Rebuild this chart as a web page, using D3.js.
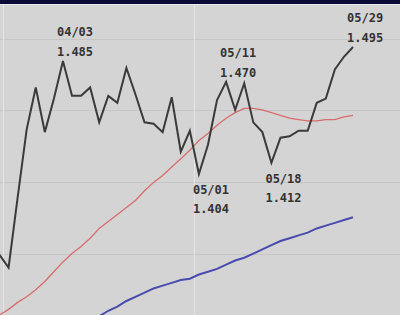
<!DOCTYPE html>
<html>
<head>
<meta charset="utf-8">
<script src="https://cdn.jsdelivr.net/npm/d3@7"></script>
<style>
  html, body { margin: 0; padding: 0; background: #d4d4d4; }
  svg { display: block; }
</style>
</head>
<body>
<div id="chart"></div>
<script>
// price series (one point per trading day)
let price = [1.346, 1.337, 1.387, 1.436, 1.466, 1.434, 1.458, 1.485, 1.460, 1.460,
             1.466, 1.441, 1.460, 1.455, 1.480, 1.461, 1.441, 1.440, 1.434, 1.459,
             1.420, 1.435, 1.404, 1.425, 1.457, 1.470, 1.450, 1.469, 1.441, 1.434,
             1.412, 1.430, 1.431, 1.435, 1.435, 1.455, 1.458, 1.479, 1.488, 1.495];

// short moving average (red)
let maShort = [1.303, 1.307, 1.312, 1.316, 1.321, 1.327, 1.334, 1.341, 1.347, 1.352,
               1.358, 1.365, 1.370, 1.375, 1.380, 1.385, 1.392, 1.398, 1.403, 1.409,
               1.415, 1.421, 1.428, 1.433, 1.439, 1.444, 1.448, 1.451, 1.451, 1.450,
               1.448, 1.446, 1.444, 1.443, 1.442, 1.442, 1.443, 1.443, 1.445, 1.446];

// long moving average (blue), starts later
let maLong = [null, null, null, null, null, null, null, null, null, null,
              1.299, 1.302, 1.306, 1.309, 1.313, 1.316, 1.319, 1.322, 1.324, 1.326,
              1.328, 1.329, 1.332, 1.334, 1.336, 1.339, 1.342, 1.344, 1.347, 1.350,
              1.353, 1.356, 1.358, 1.360, 1.362, 1.365, 1.367, 1.369, 1.371, 1.373];

// highs / lows that get a date + value label
let marks = [
  { i: 7,  date: "04/03", side: "up" },
  { i: 22, date: "05/01", side: "down" },
  { i: 25, date: "05/11", side: "up" },
  { i: 30, date: "05/18", side: "down" },
  { i: 39, date: "05/29", side: "up" }
];

// grid positions
let gridValues = [1.501, 1.450, 1.398, 1.347];
let gridDays = [0.4, 21.5];

let width = 400, height = 315;

let svg = d3.select('#chart').append('svg')
    .attr('width', width)
    .attr('height', height);

svg.append('rect')
    .attr('width', width).attr('height', height)
    .attr('fill', '#d4d4d4');

// x scale: day index
let x = d3.scaleLinear()
    .domain([0, 39])
    .range([-0.5, 353]);

// y scale
let y = d3.scaleLinear()
    .domain([1.495, 1.404])
    .range([47, 174]);

// grid
svg.selectAll('.hgrid').data(gridValues).enter().append('line')
    .attr('class', 'hgrid')
    .attr('x1', 0).attr('x2', width)
    .attr('y1', d => Math.round(y(d)) + 0.5)
    .attr('y2', d => Math.round(y(d)) + 0.5)
    .attr('stroke', '#c6c6c6');

svg.selectAll('.vgrid').data(gridDays).enter().append('line')
    .attr('class', 'vgrid')
    .attr('y1', 5).attr('y2', height)
    .attr('x1', d => Math.round(x(d)) + 0.5)
    .attr('x2', d => Math.round(x(d)) + 0.5)
    .attr('stroke', '#e4e4e4');

// top band
svg.append('rect')
    .attr('width', width).attr('height', 4)
    .attr('fill', '#0b0b38');
svg.append('rect')
    .attr('y', 4).attr('width', width).attr('height', 1)
    .attr('fill', '#e8e8ee');

let line = d3.line()
    .defined(d => d != null)
    .x((d, i) => x(i))
    .y(d => y(d));

svg.append('path').datum(maLong)
    .attr('d', line)
    .attr('fill', 'none')
    .attr('stroke', '#4a4aae')
    .attr('stroke-width', 2);

svg.append('path').datum(maShort)
    .attr('d', line)
    .attr('fill', 'none')
    .attr('stroke', '#d86c6c')
    .attr('stroke-width', 1.3);

svg.append('path').datum(price)
    .attr('d', line)
    .attr('fill', 'none')
    .attr('stroke', '#3a3a3a')
    .attr('stroke-width', 2)
    .attr('stroke-linejoin', 'miter');

// labels
let fmt = d3.format('.3f');
marks.forEach(function (m) {
    let px = x(m.i), py = y(price[m.i]);
    let g = svg.append('g')
        .attr('font-family', 'DejaVu Sans Mono, monospace')
        .attr('font-weight', 'bold')
        .attr('font-size', '12px')
        .attr('fill', '#333');
    let y1 = m.side == 'up' ? py - 25 : py + 20;
    let y2 = m.side == 'up' ? py - 5 : py + 39;
    g.append('text').attr('x', px - 6).attr('y', y1).text(m.date);
    g.append('text').attr('x', px - 6).attr('y', y2).text(fmt(price[m.i]));
});
</script>
</body>
</html>
